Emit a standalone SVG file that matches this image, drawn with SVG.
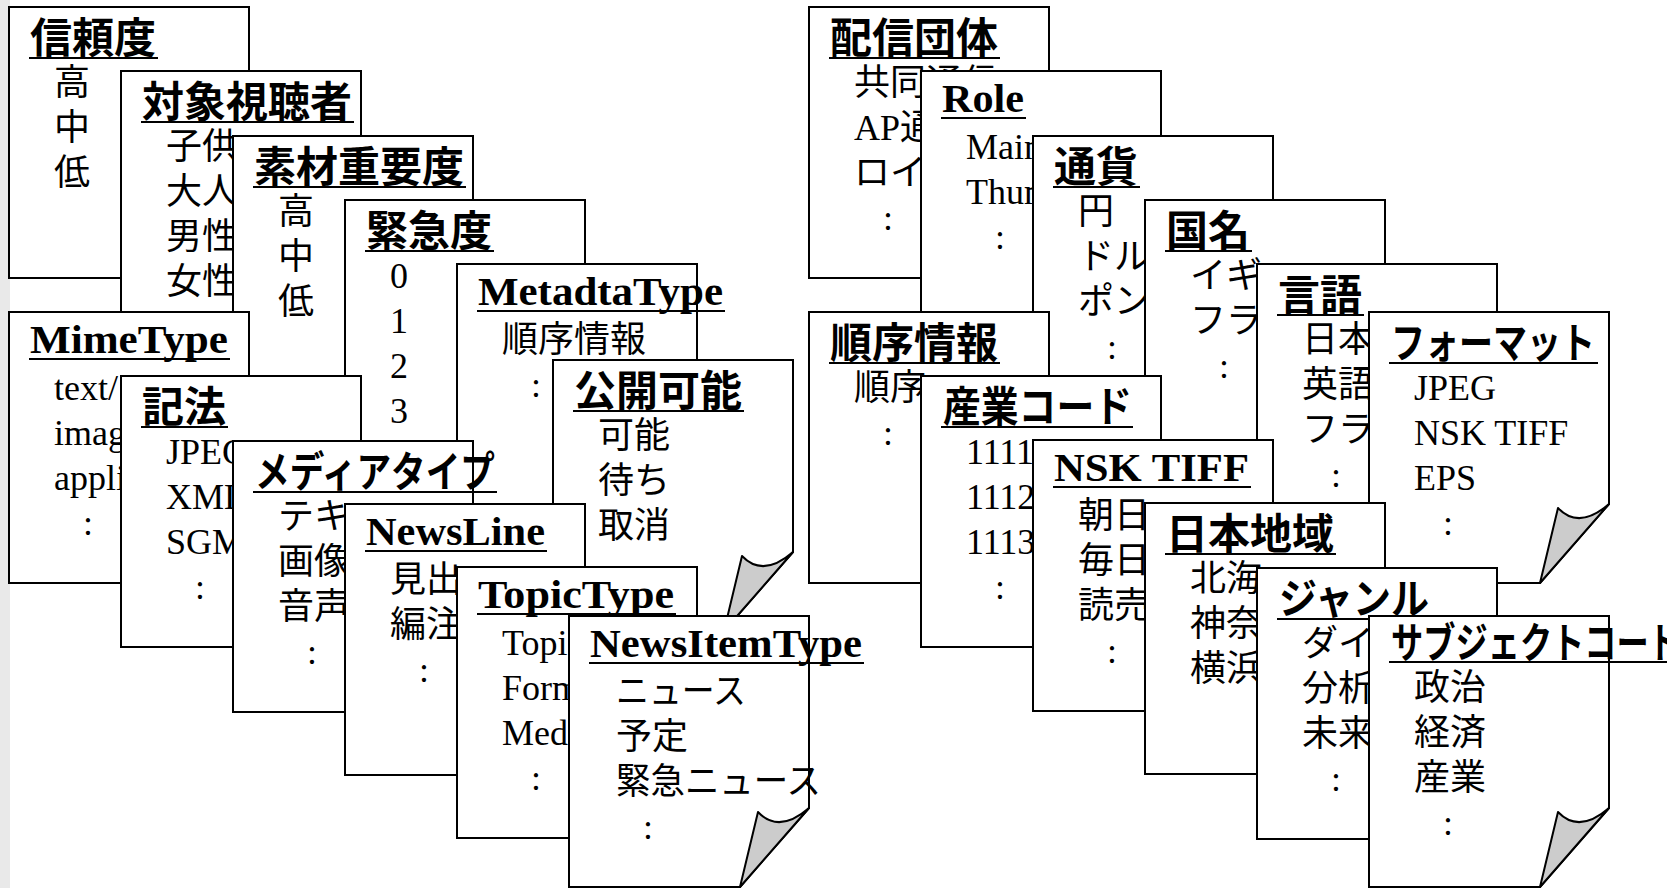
<svg xmlns="http://www.w3.org/2000/svg" width="1667" height="888" viewBox="0 0 1667 888">
<style>
.box{fill:#fff;stroke:#000;stroke-width:2}
.curl{fill:#cccccc;stroke:#000;stroke-width:2;stroke-linejoin:round}
.u{stroke:#000;stroke-width:2}
.tj{font-family:"Liberation Serif","Noto Sans CJK JP",sans-serif;font-weight:bold;font-size:42px}
.tl{font-family:"Liberation Serif","Noto Sans CJK JP",serif;font-weight:bold;font-size:40px}
.b{font-family:"Liberation Serif","Noto Sans CJK JP",serif;font-size:36px}
</style>
<defs>
<path id="page" d="M0,0 H240 V192 L171,271 H0 Z"/>
<path id="fold" d="M189,196 Q210,218 240,192 L171,271 Z"/>
</defs>
<rect x="0" y="0" width="1667" height="888" fill="#fff"/>
<rect x="0" y="0" width="10" height="888" fill="#e9e9e9"/>

<g id="connectors"></g>

<!-- left group, back row -->
<g id="n1" transform="translate(9,7)">
<rect class="box" width="240" height="271"/>
<text class="tj" x="21" y="46">信頼度</text><line class="u" x1="20" y1="51" x2="149" y2="51"/>
<text class="b"><tspan x="45" y="88">高</tspan><tspan x="45" y="133">中</tspan><tspan x="45" y="178">低</tspan></text>
</g>
<g id="n2" transform="translate(121,71)">
<rect class="box" width="240" height="271"/>
<text class="tj" x="21" y="46">対象視聴者</text><line class="u" x1="20" y1="51" x2="233" y2="51"/>
<text class="b"><tspan x="45" y="88">子供</tspan><tspan x="45" y="133">大人</tspan><tspan x="45" y="178">男性</tspan><tspan x="45" y="223">女性</tspan></text>
</g>
<g id="n3" transform="translate(233,136)">
<rect class="box" width="240" height="271"/>
<text class="tj" x="21" y="46">素材重要度</text><line class="u" x1="20" y1="51" x2="233" y2="51"/>
<text class="b"><tspan x="45" y="88">高</tspan><tspan x="45" y="133">中</tspan><tspan x="45" y="178">低</tspan></text>
</g>
<g id="n4" transform="translate(345,200)">
<rect class="box" width="240" height="271"/>
<text class="tj" x="21" y="46">緊急度</text><line class="u" x1="20" y1="51" x2="149" y2="51"/>
<text class="b"><tspan x="45" y="88">0</tspan><tspan x="45" y="133">1</tspan><tspan x="45" y="178">2</tspan><tspan x="45" y="223">3</tspan></text>
</g>
<g id="n5" transform="translate(457,264)">
<rect class="box" width="240" height="271"/>
<text class="tl" x="21" y="41" textLength="245" lengthAdjust="spacingAndGlyphs">MetadtaType</text><line class="u" x1="20" y1="47" x2="268" y2="47"/>
<text class="b"><tspan x="45" y="88">順序情報</tspan><tspan x="74" y="133">:</tspan></text>
</g>
<g id="n6" transform="translate(553,360)">
<use href="#page" class="box"/><use href="#fold" class="curl"/>
<text class="tj" x="21" y="46">公開可能</text><line class="u" x1="20" y1="51" x2="191" y2="51"/>
<text class="b"><tspan x="45" y="88">可能</tspan><tspan x="45" y="133">待ち</tspan><tspan x="45" y="178">取消</tspan><tspan x="74" y="223">:</tspan></text>
</g>

<!-- left group, front row -->
<g id="n7" transform="translate(9,312)">
<rect class="box" width="240" height="271"/>
<text class="tl" x="21" y="41" textLength="198" lengthAdjust="spacingAndGlyphs">MimeType</text><line class="u" x1="20" y1="47" x2="221" y2="47"/>
<text class="b"><tspan x="45" y="88">text/</tspan><tspan x="45" y="133">imag</tspan><tspan x="45" y="178">appli</tspan><tspan x="74" y="223">:</tspan></text>
</g>
<g id="n8" transform="translate(121,376)">
<rect class="box" width="240" height="271"/>
<text class="tj" x="21" y="46">記法</text><line class="u" x1="20" y1="51" x2="107" y2="51"/>
<text class="b"><tspan x="45" y="88">JPEG</tspan><tspan x="45" y="133">XML</tspan><tspan x="45" y="178">SGML</tspan><tspan x="74" y="223">:</tspan></text>
</g>
<g id="n9" transform="translate(233,441)">
<rect class="box" width="240" height="271"/>
<text class="tj" x="22" y="46" textLength="240" lengthAdjust="spacingAndGlyphs">メディアタイプ</text><line class="u" x1="20" y1="51" x2="264" y2="51"/>
<text class="b"><tspan x="45" y="88">テキ</tspan><tspan x="45" y="133">画像</tspan><tspan x="45" y="178">音声</tspan><tspan x="74" y="223">:</tspan></text>
</g>
<g id="n10" transform="translate(345,504)">
<rect class="box" width="240" height="271"/>
<text class="tl" x="21" y="41" textLength="179" lengthAdjust="spacingAndGlyphs">NewsLine</text><line class="u" x1="20" y1="47" x2="202" y2="47"/>
<text class="b"><tspan x="45" y="88">見出</tspan><tspan x="45" y="133">編注</tspan><tspan x="74" y="178">:</tspan></text>
</g>
<g id="n11" transform="translate(457,567)">
<rect class="box" width="240" height="271"/>
<text class="tl" x="21" y="41" textLength="196" lengthAdjust="spacingAndGlyphs">TopicType</text><line class="u" x1="20" y1="47" x2="219" y2="47"/>
<text class="b"><tspan x="45" y="88">Topi</tspan><tspan x="45" y="133">Form</tspan><tspan x="45" y="178">Med</tspan><tspan x="74" y="223">:</tspan></text>
</g>
<g id="n12" transform="translate(569,616)">
<use href="#page" class="box"/><use href="#fold" class="curl"/>
<text class="tl" x="21" y="41" textLength="272" lengthAdjust="spacingAndGlyphs">NewsItemType</text><line class="u" x1="20" y1="47" x2="295" y2="47"/>
<text class="b" x="47" y="88" textLength="130" lengthAdjust="spacingAndGlyphs">ニュース</text>
<text class="b" x="47" y="133">予定</text>
<text class="b" x="47" y="178" textLength="205" lengthAdjust="spacingAndGlyphs">緊急ニュース</text>
<text class="b" x="74" y="223">:</text>
</g>

<!-- right group, back row -->
<g id="n13" transform="translate(809,7)">
<rect class="box" width="240" height="271"/>
<text class="tj" x="21" y="46">配信団体</text><line class="u" x1="20" y1="51" x2="191" y2="51"/>
<text class="b"><tspan x="45" y="88">共同通信</tspan><tspan x="45" y="133">AP通</tspan><tspan x="45" y="178">ロイ</tspan><tspan x="74" y="223">:</tspan></text>
</g>
<g id="n14" transform="translate(921,71)">
<rect class="box" width="240" height="271"/>
<text class="tl" x="21" y="41" textLength="82" lengthAdjust="spacingAndGlyphs">Role</text><line class="u" x1="20" y1="47" x2="105" y2="47"/>
<text class="b"><tspan x="45" y="88">Main</tspan><tspan x="45" y="133">Thum</tspan><tspan x="74" y="178">:</tspan></text>
</g>
<g id="n15" transform="translate(1033,136)">
<rect class="box" width="240" height="271"/>
<text class="tj" x="21" y="46">通貨</text><line class="u" x1="20" y1="51" x2="107" y2="51"/>
<text class="b"><tspan x="45" y="88">円</tspan><tspan x="45" y="133">ドル</tspan><tspan x="45" y="178">ポン</tspan><tspan x="74" y="223">:</tspan></text>
</g>
<g id="n16" transform="translate(1145,200)">
<rect class="box" width="240" height="271"/>
<text class="tj" x="21" y="46">国名</text><line class="u" x1="20" y1="51" x2="107" y2="51"/>
<text class="b"><tspan x="45" y="88">イギ</tspan><tspan x="45" y="133">フラ</tspan><tspan x="74" y="178">:</tspan></text>
</g>
<g id="n17" transform="translate(1257,264)">
<rect class="box" width="240" height="271"/>
<text class="tj" x="21" y="46">言語</text><line class="u" x1="20" y1="51" x2="107" y2="51"/>
<text class="b"><tspan x="45" y="88">日本</tspan><tspan x="45" y="133">英語</tspan><tspan x="45" y="178">フラ</tspan><tspan x="74" y="223">:</tspan></text>
</g>
<g id="n18" transform="translate(1369,312)">
<use href="#page" class="box"/><use href="#fold" class="curl"/>
<text class="tj" x="22" y="46" textLength="204" lengthAdjust="spacingAndGlyphs">フォーマット</text><line class="u" x1="20" y1="51" x2="229" y2="51"/>
<text class="b"><tspan x="45" y="88">JPEG</tspan><tspan x="45" y="133">NSK TIFF</tspan><tspan x="45" y="178">EPS</tspan><tspan x="74" y="223">:</tspan></text>
</g>

<!-- right group, front row -->
<g id="n19" transform="translate(809,312)">
<rect class="box" width="240" height="271"/>
<text class="tj" x="21" y="46">順序情報</text><line class="u" x1="20" y1="51" x2="191" y2="51"/>
<text class="b"><tspan x="45" y="88">順序</tspan><tspan x="74" y="133">:</tspan></text>
</g>
<g id="n20" transform="translate(921,376)">
<rect class="box" width="240" height="271"/>
<text class="tj" x="22" y="46" textLength="189" lengthAdjust="spacingAndGlyphs">産業コード</text><line class="u" x1="20" y1="51" x2="212" y2="51"/>
<text class="b"><tspan x="45" y="88">1111</tspan><tspan x="45" y="133">1112</tspan><tspan x="45" y="178">1113</tspan><tspan x="74" y="223">:</tspan></text>
</g>
<g id="n21" transform="translate(1033,440)">
<rect class="box" width="240" height="271"/>
<text class="tl" x="21" y="41" textLength="195" lengthAdjust="spacingAndGlyphs">NSK TIFF</text><line class="u" x1="20" y1="47" x2="218" y2="47"/>
<text class="b"><tspan x="45" y="88">朝日</tspan><tspan x="45" y="133">毎日</tspan><tspan x="45" y="178">読売</tspan><tspan x="74" y="223">:</tspan></text>
</g>
<g id="n22" transform="translate(1145,503)">
<rect class="box" width="240" height="271"/>
<text class="tj" x="21" y="46">日本地域</text><line class="u" x1="20" y1="51" x2="191" y2="51"/>
<text class="b"><tspan x="45" y="88">北海</tspan><tspan x="45" y="133">神奈</tspan><tspan x="45" y="178">横浜</tspan></text>
</g>
<g id="n23" transform="translate(1257,568)">
<rect class="box" width="240" height="271"/>
<text class="tj" x="22" y="46" textLength="150" lengthAdjust="spacingAndGlyphs">ジャンル</text><line class="u" x1="20" y1="51" x2="174" y2="51"/>
<text class="b"><tspan x="45" y="88">ダイ</tspan><tspan x="45" y="133">分析</tspan><tspan x="45" y="178">未来</tspan><tspan x="74" y="223">:</tspan></text>
</g>
<g id="n24" transform="translate(1369,616)">
<use href="#page" class="box"/><use href="#fold" class="curl"/>
<text class="tj" x="22" y="42" textLength="290" lengthAdjust="spacingAndGlyphs">サブジェクトコード</text><line class="u" x1="20" y1="46" x2="320" y2="46"/>
<text class="b"><tspan x="45" y="84">政治</tspan><tspan x="45" y="129">経済</tspan><tspan x="45" y="174">産業</tspan><tspan x="74" y="219">:</tspan></text>
</g>
</svg>
